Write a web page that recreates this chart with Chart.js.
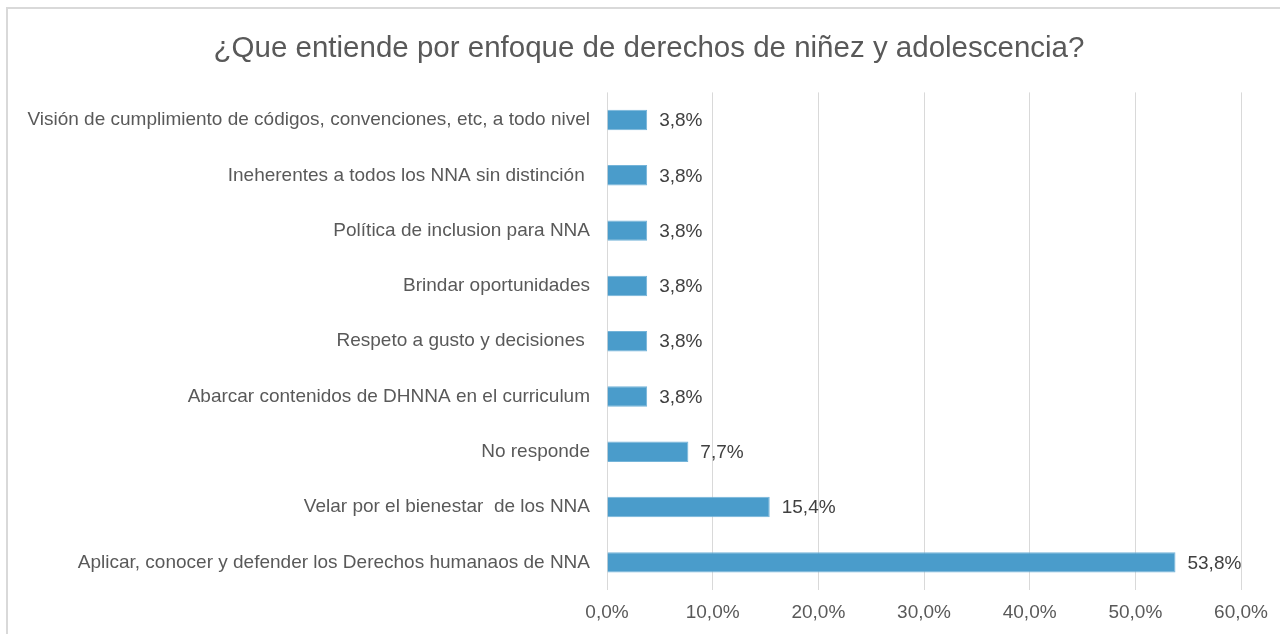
<!DOCTYPE html>
<html>
<head>
<meta charset="utf-8">
<script src="https://cdn.jsdelivr.net/npm/chart.js@4"></script>
<style>
  html, body { margin: 0; padding: 0; background: #fff; overflow: hidden; }
  #frame { position: absolute; left: 6px; top: 7px; width: 1300px; height: 660px; border: 2px solid #d9d9d9; box-sizing: border-box; }
  #chart { position: absolute; left: 0; top: 0; }
</style>
</head>
<body>
<div id="frame"></div>
<canvas id="chart" width="1280" height="634"></canvas>
<script>
const titleText = '¿Que entiende por enfoque de derechos de niñez y adolescencia?';
const categories = [
  'Visión de cumplimiento de códigos, convenciones, etc, a todo nivel',
  'Ineherentes a todos los NNA sin distinción ',
  'Política de inclusion para NNA',
  'Brindar oportunidades',
  'Respeto a gusto y decisiones ',
  'Abarcar contenidos de DHNNA en el curriculum',
  'No responde',
  'Velar por el bienestar  de los NNA',
  'Aplicar, conocer y defender los Derechos humanaos de NNA'
];
const percentages = [3.8, 3.8, 3.8, 3.8, 3.8, 3.8, 7.7, 15.4, 53.8];
const xTicks = [0, 10, 20, 30, 40, 50, 60];

const FONT = "'Liberation Sans', Arial, sans-serif";
const GREY = '#595959';

function pct(v) {
  return v.toFixed(1).replace('.', ',') + '%';
}

// title is centred over the whole frame, not just the padded box
const titleShift = {
  id: 'titleShift',
  afterLayout(chart) {
    chart.titleBlock.left = 57;
  }
};

// writes the value next to the end of each bar
const valueLabels = {
  id: 'valueLabels',
  afterDatasetsDraw(chart) {
    const ctx = chart.ctx;
    const meta = chart.getDatasetMeta(0);
    ctx.save();
    ctx.font = '19px ' + FONT;
    ctx.fillStyle = '#404040';
    ctx.textAlign = 'left';
    ctx.textBaseline = 'middle';
    meta.data.forEach((bar, i) => {
      ctx.fillText(pct(percentages[i]), bar.x + 12, bar.y + 1);
    });
    ctx.restore();
  }
};

new Chart(document.getElementById('chart').getContext('2d'), {
  type: 'bar',
  data: {
    labels: categories,
    datasets: [{
      data: percentages,
      backgroundColor: '#4a9ccb',
      borderColor: '#74b4d9',
      borderWidth: 1,
      categoryPercentage: 1,
      barPercentage: 0.37
    }]
  },
  options: {
    indexAxis: 'y',
    responsive: false,
    animation: false,
    layout: { padding: { top: 31, right: 39, bottom: 0, left: 0 } },
    plugins: {
      legend: { display: false },
      tooltip: { enabled: false },
      title: {
        display: true,
        text: titleText,
        color: GREY,
        font: { family: FONT, size: 29.5, weight: 'normal' },
        padding: { top: 0, bottom: 26 }
      }
    },
    scales: {
      x: {
        min: 0,
        max: 60,
        afterBuildTicks(scale) {
          scale.ticks = xTicks.map(v => ({ value: v }));
        },
        afterFit(scale) { scale.height = 44; },
        grid: { color: '#d9d9d9', lineWidth: 1, drawTicks: false },
        border: { display: false },
        ticks: {
          color: GREY,
          font: { family: FONT, size: 19 },
          padding: 11,
          callback: v => pct(v)
        }
      },
      y: {
        afterFit(scale) { scale.width = 607; },
        grid: { display: false, drawTicks: false },
        border: { display: false },
        ticks: {
          color: GREY,
          font: { family: FONT, size: 19 },
          padding: 17
        }
      }
    }
  },
  plugins: [titleShift, valueLabels]
});
</script>
</body>
</html>
